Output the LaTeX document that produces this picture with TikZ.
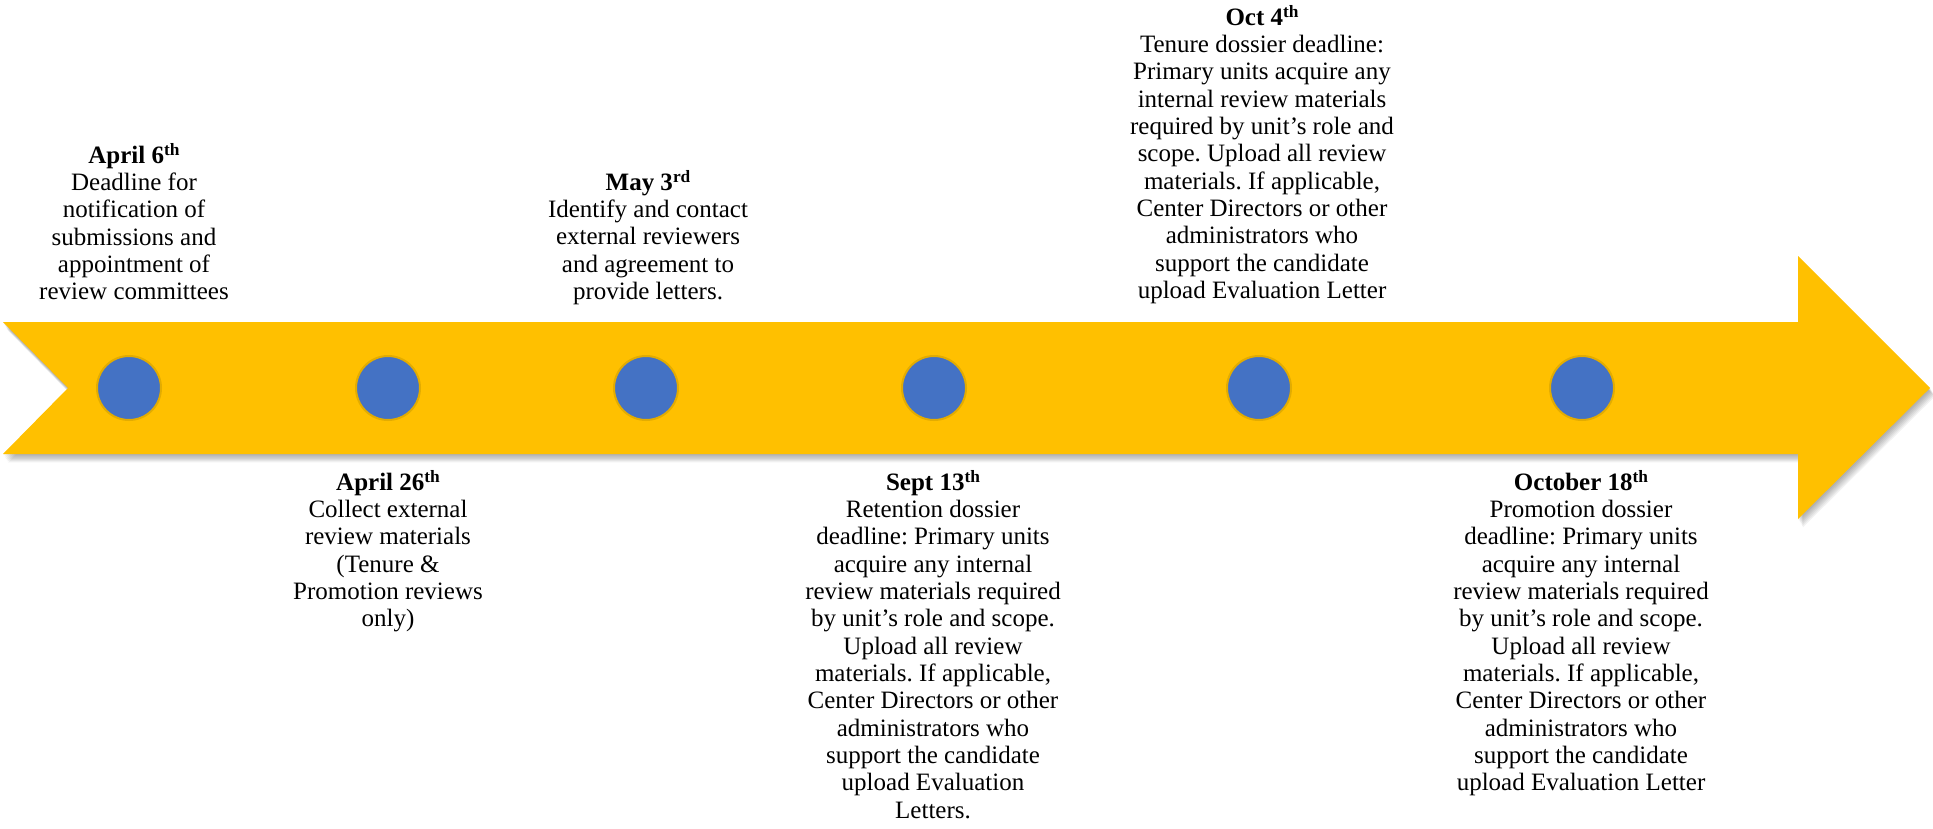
\documentclass[tikz,border=0pt]{standalone}
\usepackage{fontspec}
\setmainfont{Liberation Serif}
\frenchspacing
\definecolor{gold}{HTML}{FFC000}
\definecolor{ringgold}{HTML}{E3AC00}
\definecolor{cblue}{HTML}{4472C4}
\definecolor{cmid}{HTML}{3A62AC}
\definecolor{cdark}{HTML}{26437A}
\pgfdeclareradialshading{dotshade}{\pgfpoint{-14bp}{14bp}}{color(0bp)=(cblue); color(38bp)=(cblue); color(54bp)=(cmid); color(68bp)=(cdark)}
\newcommand\supr[1]{\raisebox{5.5pt}{\fontsize{13}{13}\selectfont #1}}
\newcommand\firstln{\rule{0pt}{14.5pt}}
\tikzset{
  arrowshape/.style={insert path={(3,322) -- (1798,322) -- (1798,256) -- (1930,388) -- (1798,519) -- (1798,454) -- (3,454) -- (68,388) -- cycle}},
  dot/.style={circle, inner sep=0pt, minimum size=48pt, shading=dotshade, draw=ringgold, line width=1.5pt},
  lbl/.style={anchor=north, align=center, inner sep=0pt, font=\fontsize{18.75}{20.5}\selectfont}
}
\begin{document}
\begin{tikzpicture}[x=0.75pt,y=-0.75pt]
\useasboundingbox (0,0) rectangle (1933,828);
% shadow
\foreach \i in {1,...,7}{
  \fill[black, opacity=0.05, shift={(0.7*\i,1.2*\i)}] [arrowshape];
}
% arrow
\fill[gold] [arrowshape];
% dots
\node[dot] (d1) at (129,388) {};
\node[dot] (d2) at (388,388) {};
\node[dot] (d3) at (646,388) {};
\node[dot] (d4) at (934,388) {};
\node[dot] (d5) at (1259,388) {};
\node[dot] (d6) at (1582,388) {};
% labels
\node[lbl] (t1) at (134,143.67) {\firstln\textbf{April 6\supr{th}}\\Deadline for\\notification of\\submissions and\\appointment of\\review committees};
\node[lbl] (t2) at (388,470.67) {\firstln\textbf{April 26\supr{th}}\\Collect external\\review materials\\(Tenure \&\\Promotion reviews\\only)};
\node[lbl] (t3) at (648,170.67) {\firstln\textbf{May 3\supr{rd}}\\Identify and contact\\external reviewers\\and agreement to\\provide letters.};
\node[lbl] (t4) at (933,470.67) {\firstln\textbf{Sept 13\supr{th}}\\Retention dossier\\deadline: Primary units\\acquire any internal\\review materials required\\by unit’s role and scope.\\Upload all review\\materials. If applicable,\\Center Directors or other\\administrators who\\support the candidate\\upload Evaluation\\Letters.};
\node[lbl] (t5) at (1262,5.67) {\firstln\textbf{Oct 4\supr{th}}\\Tenure dossier deadline:\\Primary units acquire any\\internal review materials\\required by unit’s role and\\scope. Upload all review\\materials. If applicable,\\Center Directors or other\\administrators who\\support the candidate\\upload Evaluation Letter};
\node[lbl] (t6) at (1581,470.67) {\firstln\textbf{October 18\supr{th}}\\Promotion dossier\\deadline: Primary units\\acquire any internal\\review materials required\\by unit’s role and scope.\\Upload all review\\materials. If applicable,\\Center Directors or other\\administrators who\\support the candidate\\upload Evaluation Letter};
\end{tikzpicture}
\end{document}
